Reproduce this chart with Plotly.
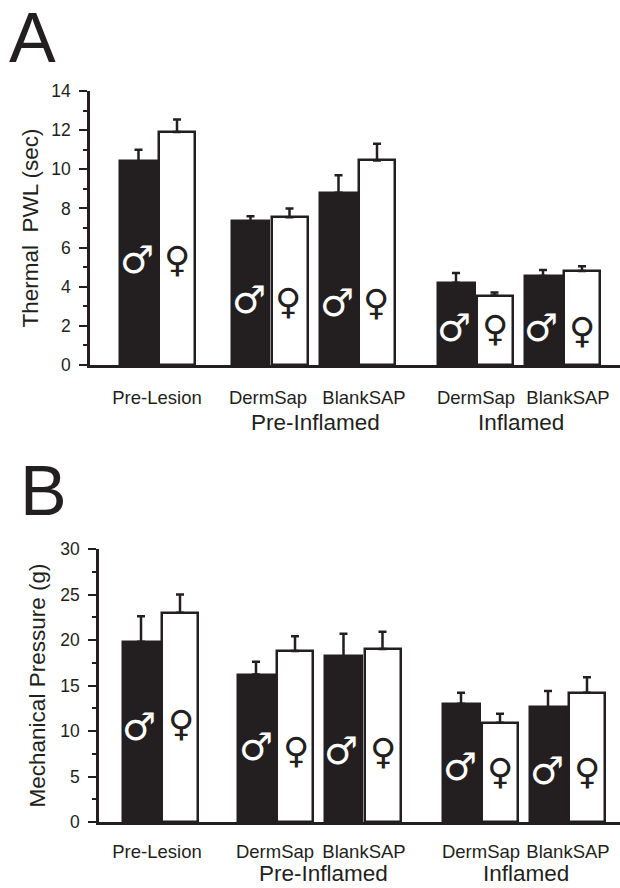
import plotly.graph_objects as go

# Data
categories = ["Pre-Lesion", "DermSap", "BlankSAP", "DermSap", "BlankSAP"]
groups = ["Pre-Inflamed", "Inflamed"]

thermal_male = [10.4, 7.35, 8.8, 4.2, 4.55]
thermal_male_err = [0.6, 0.25, 0.9, 0.5, 0.3]
thermal_female = [11.9, 7.55, 10.45, 3.55, 4.8]
thermal_female_err = [0.65, 0.45, 0.85, 0.15, 0.25]

mech_male = [19.8, 16.2, 18.2, 13.0, 12.6]
mech_male_err = [2.8, 1.4, 2.5, 1.2, 1.8]
mech_female = [23.0, 18.8, 19.0, 10.9, 14.2]
mech_female_err = [2.0, 1.6, 1.9, 1.0, 1.7]

# Layout positions (x axis runs in page pixels)
WIDTH, HEIGHT = 620, 888
INK = "#231f20"
FONT = "Liberation Sans"

a_male_x = [138.5, 250.5, 338.5, 456, 543]
a_female_x = [177, 289.5, 377, 494.5, 582]
a_tick_x = [157, 268, 364, 476, 568]
a_male_sym_y = [5.37, 3.32, 3.17, 1.89, 1.89]
a_female_sym_y = [5.37, 3.22, 3.17, 1.89, 1.74]
a_male_sym_x = [137, 249, 337, 454, 541]
a_female_sym_x = [177, 288, 376, 495, 582]

b_male_x = [141, 256, 343.5, 461, 548]
b_female_x = [180, 295, 382.5, 500, 587]
b_tick_x = [157, 275, 364, 481, 568]
b_male_sym_y = [10.4, 8.2, 7.8, 6.0, 5.6]
b_female_sym_y = [10.8, 7.9, 7.7, 5.5, 5.5]
b_male_sym_x = [139, 256, 341, 460, 547]
b_female_sym_x = [181, 296, 383, 500, 587]

fig = go.Figure()


def bars(xs, vals, errs, xa, ya, fill, name, width):
    fig.add_trace(go.Bar(
        x=xs, y=vals, width=width, name=name, xaxis=xa, yaxis=ya, showlegend=False,
        marker=dict(color=fill, line=dict(color=INK, width=2.5)),
        error_y=dict(type="data", symmetric=False, array=errs, arrayminus=[0] * len(errs),
                     color=INK, thickness=2.5, width=4),
    ))


bars(a_male_x, thermal_male, thermal_male_err, "x", "y", INK, "Male", 37)
bars(a_female_x, thermal_female, thermal_female_err, "x", "y", "#ffffff", "Female", 36)
bars(b_male_x, mech_male, mech_male_err, "x2", "y2", INK, "Male", 37)
bars(b_female_x, mech_female, mech_female_err, "x2", "y2", "#ffffff", "Female", 36)

ann = []


def symbols(xs, ys, ref_x, ref_y, char, color, weight, size):
    for x, y in zip(xs, ys):
        ann.append(dict(x=x, y=y, xref=ref_x, yref=ref_y, text=char, showarrow=False,
                        xanchor="center", yanchor="middle",
                        font=dict(family="DejaVu Sans", size=size, color=color, weight=weight)))


symbols(a_male_sym_x, a_male_sym_y, "x", "y", "♂", "#ffffff", 700, 38)
symbols(a_female_sym_x, a_female_sym_y, "x", "y", "♀", INK, 400, 36)
symbols(b_male_sym_x, b_male_sym_y, "x2", "y2", "♂", "#ffffff", 700, 38)
symbols(b_female_sym_x, b_female_sym_y, "x2", "y2", "♀", INK, 400, 36)


def page_text(text, x, y, size):
    ann.append(dict(x=x / WIDTH, y=1 - y / HEIGHT, xref="paper", yref="paper", text=text,
                    showarrow=False, xanchor="center", yanchor="middle",
                    font=dict(family=FONT, size=size, color=INK)))


page_text("A", 32, 38, 70)
page_text("B", 43, 491, 70)
page_text(groups[0], 315, 423, 22.5)
page_text(groups[1], 521, 423, 22.5)
page_text(groups[0], 323, 873, 22.5)
page_text(groups[1], 526, 873, 22.5)


def xaxis(left, tick_x, label_gap):
    return dict(domain=[left / WIDTH, 1], range=[left, WIDTH], tickmode="array", tickvals=tick_x,
                ticktext=categories, ticks="outside", ticklen=label_gap, tickcolor="rgba(0,0,0,0)",
                tickfont=dict(family=FONT, size=18.5, color=INK), showgrid=False, zeroline=False,
                showline=True, linecolor=INK, linewidth=2.5)


def yaxis(anchor, bottom_px, top_px, rng, major, minor, title, standoff):
    return dict(domain=[1 - bottom_px / HEIGHT, 1 - top_px / HEIGHT], range=rng, anchor=anchor,
                tickmode="linear", tick0=0, dtick=major, ticks="outside", ticklen=8, tickwidth=1.5,
                tickcolor=INK, tickfont=dict(family=FONT, size=17.5, color=INK), ticklabelstandoff=5,
                minor=dict(dtick=minor, ticks="outside", ticklen=4, tickwidth=1.5, tickcolor=INK),
                showgrid=False, zeroline=False, showline=True, linecolor=INK, linewidth=2.5,
                title=dict(text=title, standoff=standoff, font=dict(family=FONT, size=22.5, color=INK)))


fig.update_layout(
    width=WIDTH, height=HEIGHT, margin=dict(l=0, r=0, t=0, b=0, autoexpand=False), autosize=False,
    paper_bgcolor="#ffffff", plot_bgcolor="#ffffff", barmode="overlay", bargap=0,
    xaxis=dict(anchor="y", **xaxis(90, a_tick_x, 14)),
    yaxis=yaxis("x", 365, 91, [0, 14], 2, 1, "Thermal  PWL (sec)", 7),
    xaxis2=dict(anchor="y2", **xaxis(99, b_tick_x, 11)),
    yaxis2=yaxis("x2", 822, 549, [0, 30], 5, 2.5, "Mechanical Pressure (g)", 9),
    annotations=ann,
)

fig.write_html("out.html", config={"displayModeBar": False},
               post_script="document.body.style.margin='0';")
